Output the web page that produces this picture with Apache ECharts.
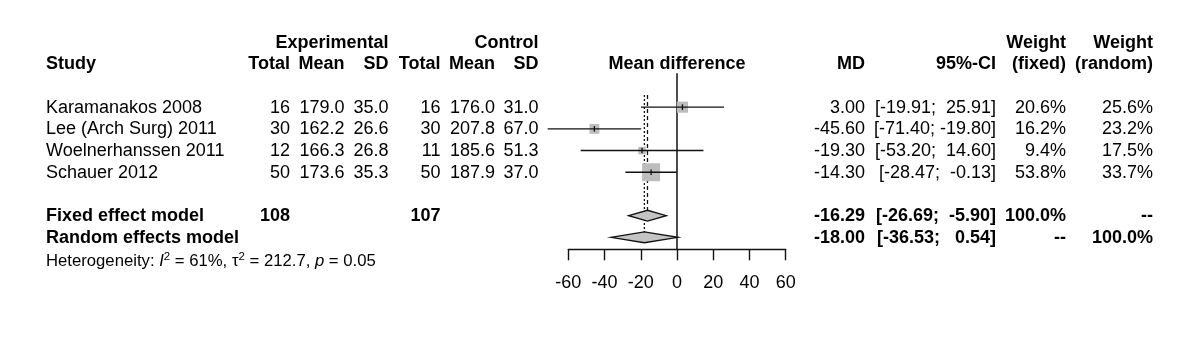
<!DOCTYPE html>
<html><head><meta charset="utf-8">
<script src="https://cdn.jsdelivr.net/npm/echarts@6/dist/echarts.min.js"></script>
<style>html,body{margin:0;padding:0;background:#fff}#c{width:1200px;height:339px}</style>
</head><body><div id="c"></div>
<script>
// ---------------- data ----------------
const studies = ['Karamanakos 2008', 'Lee (Arch Surg) 2011', 'Woelnerhanssen 2011', 'Schauer 2012'];
const expTotal = [16, 30, 12, 50];
const expMean = [179.0, 162.2, 166.3, 173.6];
const expSD = [35.0, 26.6, 26.8, 35.3];
const ctlTotal = [16, 30, 11, 50];
const ctlMean = [176.0, 207.8, 185.6, 187.9];
const ctlSD = [31.0, 67.0, 51.3, 37.0];
const md = [3.00, -45.60, -19.30, -14.30];
const ciLow = [-19.91, -71.40, -53.20, -28.47];
const ciHigh = [25.91, -19.80, 14.60, -0.13];
const wFixed = [20.6, 16.2, 9.4, 53.8];
const wRandom = [25.6, 23.2, 17.5, 33.7];

const summaryLabels = ['Fixed effect model', 'Random effects model'];
const summaryExpTotal = ['108', ''];
const summaryCtlTotal = ['107', ''];
const summaryMD = [-16.29, -18.00];
const summaryLow = [-26.69, -36.53];
const summaryHigh = [-5.90, 0.54];
const summaryWFixed = ['100.0%', '--'];
const summaryWRandom = ['--', '100.0%'];
const hetI2 = '61%', hetTau2 = '212.7', hetP = '0.05';

const xTickMin = -60, xTickMax = 60, xTickStep = 20;

// ---------------- layout / style ----------------
const FONT = '"Liberation Sans", Arial, Helvetica, sans-serif';
const FS = 18;
const studyRows = studies.map((_, i) => i);
const summaryRows = [5, 6];
const yMin = -1.56, yMax = 6.55;
const lineCol = '#111';
const squareCol = '#bdbdbd';
const diamondCol = '#c4c4c4';
const maxSquare = 18;
const maxW = Math.max(...wFixed);
const diamondHalfH = 5.4;

const chart = echarts.init(document.getElementById('c'), null, {renderer: 'canvas'});

const studyData = studies.map((s, i) => [md[i], studyRows[i], ciLow[i], ciHigh[i], wFixed[i]]);
const diamondData = summaryMD.map((m, i) => [m, summaryRows[i], summaryLow[i], summaryHigh[i]]);

chart.setOption({
  animation: false,
  backgroundColor: '#fff',
  grid: {left: 568.3, width: 217.4, top: 73.3, height: 176},
  xAxis: {
    type: 'value', min: xTickMin, max: xTickMax, interval: xTickStep,
    axisLine: {show: true, onZero: false, lineStyle: {color: lineCol, width: 1.4}},
    axisTick: {show: true, length: 11, lineStyle: {color: lineCol, width: 1.4}},
    axisLabel: {fontSize: FS, color: '#000', fontFamily: FONT, margin: 25},
    splitLine: {show: false}
  },
  yAxis: {type: 'value', min: yMin, max: yMax, inverse: true, show: false},
  series: [
    { // fixed effect line (dashed)
      type: 'line', symbol: 'none', silent: true, z: 1,
      lineStyle: {color: lineCol, width: 1.3, type: [4, 3]},
      data: [[summaryMD[0], -0.56], [summaryMD[0], summaryRows[0] - 0.25]]
    },
    { // random effect line (dotted)
      type: 'line', symbol: 'none', silent: true, z: 1,
      lineStyle: {color: lineCol, width: 1.3, type: [2, 2]},
      data: [[summaryMD[1], -0.56], [summaryMD[1], summaryRows[1] - 0.25]]
    },
    { // zero line
      type: 'line', symbol: 'none', silent: true, z: 1,
      lineStyle: {color: lineCol, width: 1.5},
      data: [[0, yMin], [0, yMax]]
    },
    { // study squares + CIs
      type: 'custom', clip: false, z: 3,
      data: studyData,
      renderItem: function (params, api) {
        const c = api.coord([api.value(0), api.value(1)]);
        const lo = api.coord([api.value(2), api.value(1)]);
        const hi = api.coord([api.value(3), api.value(1)]);
        const s = maxSquare * Math.sqrt(api.value(4) / maxW);
        return {
          type: 'group',
          children: [
            {type: 'rect', shape: {x: c[0] - s / 2, y: c[1] - s / 2, width: s, height: s},
              style: {fill: squareCol}},
            {type: 'line', shape: {x1: lo[0], y1: c[1], x2: hi[0], y2: c[1]},
              style: {stroke: lineCol, lineWidth: 1.4}},
            {type: 'line', shape: {x1: c[0], y1: c[1] - 2.8, x2: c[0], y2: c[1] + 2.8},
              style: {stroke: lineCol, lineWidth: 1.3}}
          ]
        };
      }
    },
    { // diamonds
      type: 'custom', clip: false, z: 4,
      data: diamondData,
      renderItem: function (params, api) {
        const c = api.coord([api.value(0), api.value(1)]);
        const lo = api.coord([api.value(2), api.value(1)]);
        const hi = api.coord([api.value(3), api.value(1)]);
        return {
          type: 'polygon',
          shape: {points: [[lo[0], c[1]], [c[0], c[1] - diamondHalfH], [hi[0], c[1]], [c[0], c[1] + diamondHalfH]]},
          style: {fill: diamondCol, stroke: lineCol, lineWidth: 1.3}
        };
      }
    }
  ]
});

// ---------------- table text ----------------
const rowY = r => chart.convertToPixel({yAxisIndex: 0}, r);
const TXT_DY = 0.5;
const texts = [];
function T(str, x, row, align, bold, size) {
  texts.push({
    type: 'text', x: x, y: rowY(row) + TXT_DY, z: 10, silent: true,
    style: {
      text: str, fill: '#000', align: align, verticalAlign: 'middle',
      textAlign: align, textVerticalAlign: 'middle',
      font: (bold ? 'bold ' : '') + (size || FS) + 'px ' + FONT
    }
  });
}
const pad = (v, n) => { let s = v.toFixed(2); while (s.length < n) s = ' ' + s; return s; };
const ciStr = (lo, hi) => '[' + pad(lo, 6) + '; ' + pad(hi, 6) + ']';
const X = {study: 46, eT: 290, eM: 344.5, eS: 388.5, cT: 440.5, cM: 495, cS: 538.5,
  mdHead: 677, md: 865, ci: 996, wf: 1066, wr: 1153};

// headers
T('Experimental', X.eS, -3, 'right', true);
T('Control', X.cS, -3, 'right', true);
T('Weight', X.wf, -3, 'right', true);
T('Weight', X.wr, -3, 'right', true);
T('Study', X.study, -2, 'left', true);
T('Total', X.eT, -2, 'right', true);
T('Mean', X.eM, -2, 'right', true);
T('SD', X.eS, -2, 'right', true);
T('Total', X.cT, -2, 'right', true);
T('Mean', X.cM, -2, 'right', true);
T('SD', X.cS, -2, 'right', true);
T('Mean difference', X.mdHead, -2, 'center', true);
T('MD', X.md, -2, 'right', true);
T('95%-CI', X.ci, -2, 'right', true);
T('(fixed)', X.wf, -2, 'right', true);
T('(random)', X.wr, -2, 'right', true);

// studies
studies.forEach((s, i) => {
  const r = studyRows[i];
  T(s, X.study, r, 'left');
  T(String(expTotal[i]), X.eT, r, 'right');
  T(expMean[i].toFixed(1), X.eM, r, 'right');
  T(expSD[i].toFixed(1), X.eS, r, 'right');
  T(String(ctlTotal[i]), X.cT, r, 'right');
  T(ctlMean[i].toFixed(1), X.cM, r, 'right');
  T(ctlSD[i].toFixed(1), X.cS, r, 'right');
  T(md[i].toFixed(2), X.md, r, 'right');
  T(ciStr(ciLow[i], ciHigh[i]), X.ci, r, 'right');
  T(wFixed[i].toFixed(1) + '%', X.wf, r, 'right');
  T(wRandom[i].toFixed(1) + '%', X.wr, r, 'right');
});

// summaries
summaryLabels.forEach((s, i) => {
  const r = summaryRows[i];
  T(s, X.study, r, 'left', true);
  if (summaryExpTotal[i]) T(summaryExpTotal[i], X.eT, r, 'right', true);
  if (summaryCtlTotal[i]) T(summaryCtlTotal[i], X.cT, r, 'right', true);
  T(summaryMD[i].toFixed(2), X.md, r, 'right', true);
  T(ciStr(summaryLow[i], summaryHigh[i]), X.ci, r, 'right', true);
  T(summaryWFixed[i], X.wf, r, 'right', true);
  T(summaryWRandom[i], X.wr, r, 'right', true);
});

// heterogeneity
texts.push({
  type: 'text', x: X.study, y: rowY(7.12), z: 10, silent: true,
  style: {
    text: 'Heterogeneity: {it|I}{sup|2} = ' + hetI2 + ', τ{sup|2} = ' + hetTau2 + ', {it|p} = ' + hetP,
    fill: '#000', align: 'left', verticalAlign: 'middle',
    fontSize: 16.7, fontFamily: FONT, lineHeight: 22,
    rich: {
      it: {fontSize: 16.7, fontStyle: 'italic', fontFamily: FONT, lineHeight: 22},
      sup: {fontSize: 11.5, fontFamily: FONT, lineHeight: 12, verticalAlign: 'top'}
    }
  }
});

chart.setOption({graphic: {elements: texts}});
</script>
</body></html>
